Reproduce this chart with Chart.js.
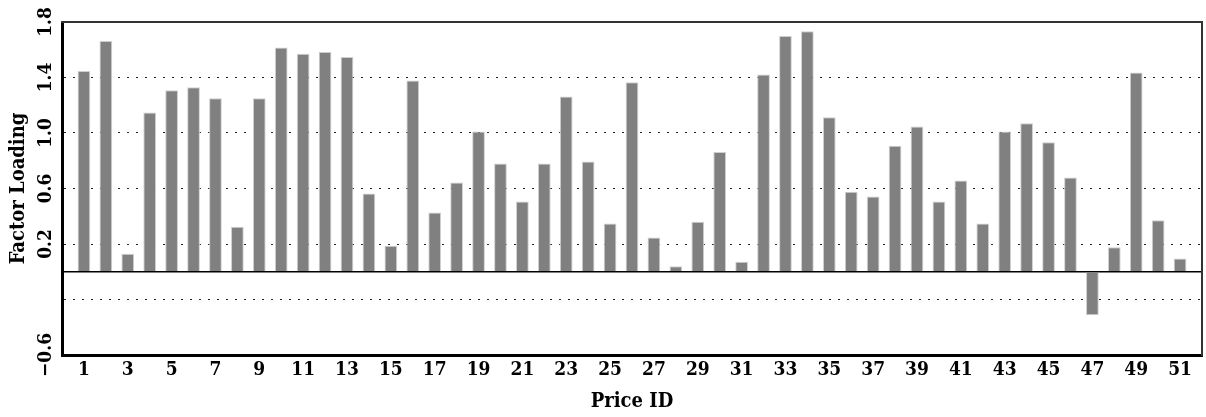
<!DOCTYPE html>
<html>
<head>
<meta charset="utf-8">
<script src="https://cdn.jsdelivr.net/npm/chart.js@4.4.1/dist/chart.umd.min.js"></script>
<style>
  html, body { margin: 0; padding: 0; background: #ffffff; }
  #wrap { width: 1206px; height: 417px; position: relative; }
</style>
</head>
<body>
<div id="wrap"><canvas id="c"></canvas></div>
<script>
// ---- data ----
const categories = [1,2,3,4,5,6,7,8,9,10,11,12,13,14,15,16,17,18,19,20,21,22,23,24,25,26,27,28,29,30,31,32,33,34,35,36,37,38,39,40,41,42,43,44,45,46,47,48,49,50,51];
const loadings = [1.446,1.663,0.130,1.147,1.308,1.330,1.251,0.325,1.251,1.617,1.571,1.583,1.547,0.564,0.188,1.378,0.427,0.643,1.010,0.781,0.506,0.781,1.263,0.795,0.347,1.366,0.246,0.039,0.361,0.863,0.072,1.422,1.699,1.733,1.113,0.576,0.542,0.908,1.046,0.506,0.658,0.347,1.010,1.070,0.933,0.680,-0.313,0.176,1.436,0.371,0.096];
const xTickLabels = ['1','3','5','7','9','11','13','15','17','19','21','23','25','27','29','31','33','35','37','39','41','43','45','47','49','51'];
const yTickValues = [-0.6, -0.2, 0, 0.2, 0.6, 1.0, 1.4, 1.8];
const yTickLabels = ['\u22120.6', '', '', '0.2', '0.6', '1.0', '1.4', '1.8'];
const xTitle = 'Price ID';
const yTitle = 'Factor Loading';

// padded axis: one empty slot at each end
const labels = [''].concat(categories.map(String)).concat(['']);
const values = [null].concat(loadings).concat([null]);

const FONT = "'DejaVu Serif Condensed', 'DejaVu Serif', serif";

new Chart(document.getElementById('c'), {
  type: 'bar',
  data: {
    labels: labels,
    datasets: [{
      data: values,
      backgroundColor: '#808080',
      borderColor: '#cfcfcf',
      borderWidth: 1,
      barPercentage: 0.58,
      categoryPercentage: 1.0
    }]
  },
  options: {
    responsive: true,
    maintainAspectRatio: false,
    animation: false,
    events: [],
    layout: { padding: { top: 22, right: 3, left: 0, bottom: 0 } },
    plugins: { legend: { display: false }, tooltip: { enabled: false } },
    scales: {
      x: {
        type: 'category',
        position: 'bottom',
        offset: false,
        grid: { display: false, drawTicks: false },
        border: { display: true, color: '#000000', width: 3 },
        ticks: {
          autoSkip: false, maxRotation: 0, minRotation: 0, padding: 4,
          color: '#000000',
          font: { family: FONT, size: 19, weight: 'bold' },
          callback: function (v, i) {
            const l = labels[i];
            return xTickLabels.indexOf(l) >= 0 ? l : '';
          }
        },
        title: {
          display: true, text: xTitle, color: '#000000',
          font: { family: FONT, size: 20, weight: 'bold' },
          padding: { top: 0, bottom: 3 }
        },
        afterFit: function (s) { s.height = 62; }
      },
      y: {
        type: 'linear',
        position: 'left',
        min: -0.6, max: 1.8,
        afterBuildTicks: function (s) { s.ticks = yTickValues.map(v => ({ value: v })); },
        grid: {
          drawTicks: false,
          color: function (ctx) { return ctx.tick && ctx.tick.value === 0 ? '#000000' : '#222222'; },
          lineWidth: function (ctx) { return ctx.tick && ctx.tick.value === 0 ? 1.5 : 1; }
        },
        border: {
          display: true, color: '#000000', width: 3,
          dash: function (ctx) { return ctx.tick && ctx.tick.value === 0 ? [] : [2, 7]; }
        },
        ticks: {
          minRotation: 90, maxRotation: 90,
          crossAlign: 'center',
          padding: -6,
          color: '#000000',
          font: { family: FONT, size: 19, weight: 'bold' },
          callback: function (v) {
            const i = yTickValues.findIndex(t => Math.abs(t - v) < 1e-9);
            return i >= 0 ? yTickLabels[i] : '';
          }
        },
        title: {
          display: true, text: yTitle, color: '#000000',
          font: { family: FONT, size: 20, weight: 'bold' },
          padding: { top: 7, bottom: 0 }
        },
        afterFit: function (s) { s.width = 62; }
      },
      xTop: {
        type: 'linear', position: 'top', min: 0, max: 1,
        grid: { display: false, drawTicks: false },
        border: { display: true, color: '#333333', width: 2 },
        ticks: { display: false },
        afterFit: function (s) { s.height = 0; }
      },
      yRight: {
        type: 'linear', position: 'right', min: 0, max: 1,
        grid: { display: false, drawTicks: false },
        border: { display: true, color: '#333333', width: 2 },
        ticks: { display: false },
        afterFit: function (s) { s.width = 0; }
      }
    }
  }
});
</script>
</body>
</html>
